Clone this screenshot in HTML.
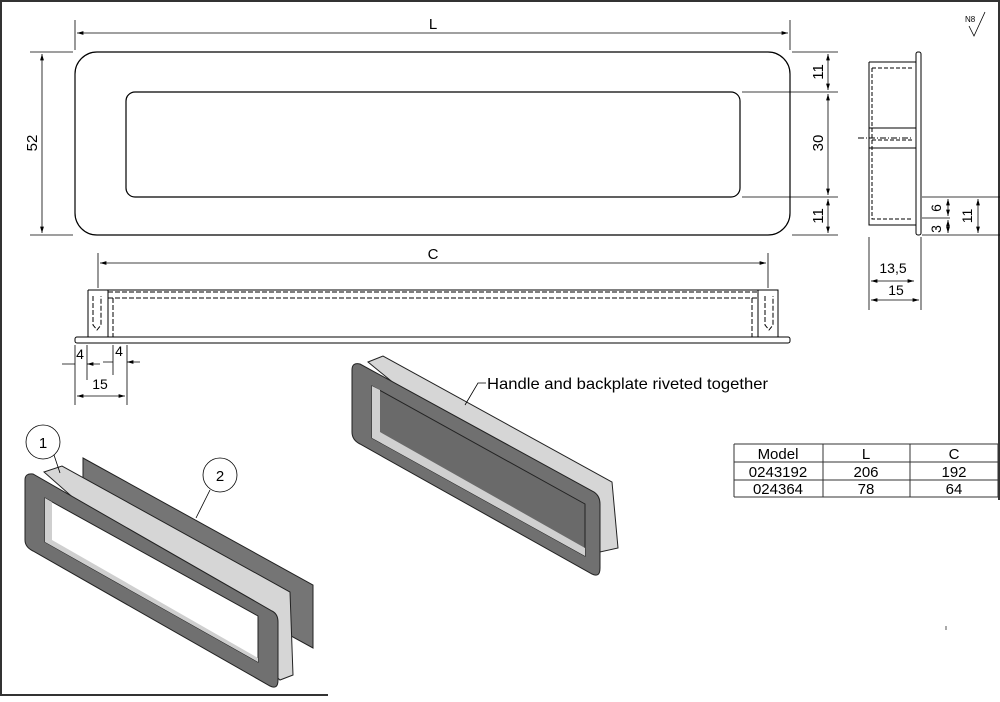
<!DOCTYPE html>
<html><head><style>
body{margin:0;background:#fff;}
svg{display:block;font-family:"Liberation Sans",sans-serif;}
</style></head><body>
<svg width="1000" height="702" viewBox="0 0 1000 702" xmlns="http://www.w3.org/2000/svg">
<defs>
<marker id="a" viewBox="0 0 10 6" refX="10" refY="3" markerWidth="8" markerHeight="5" orient="auto-start-reverse"><path d="M0,0L10,3L0,6z" fill="#000"/></marker>
</defs>
<rect width="1000" height="702" fill="#fff"/>
<g stroke="#333" stroke-width="2" fill="none">
<path d="M1,0V695H328"/>
<path d="M0,1H999V500"/>
</g>
<g fill="none" stroke="#000" stroke-width="1.2">
<rect x="75" y="52" width="715" height="183" rx="22"/>
<rect x="126" y="92" width="614" height="105" rx="9"/>
</g>
<g stroke="#000" stroke-width="0.8" fill="none">
<path d="M75,20V50M790,20V50M30,52H73M30,235H73M792,52H838M742,92H838M742,197H838M792,235H838"/>
<path d="M77,33H788" marker-start="url(#a)" marker-end="url(#a)"/>
<path d="M42,54V233" marker-start="url(#a)" marker-end="url(#a)"/>
<path d="M828,54V90" marker-start="url(#a)" marker-end="url(#a)"/>
<path d="M828,94V195" marker-start="url(#a)" marker-end="url(#a)"/>
<path d="M828,199V233" marker-start="url(#a)" marker-end="url(#a)"/>
</g>
<g font-size="15" fill="#000" text-anchor="middle">
<text x="433" y="29">L</text>
<text transform="translate(37,143) rotate(-90)">52</text>
<text transform="translate(823,72) rotate(-90)">11</text>
<text transform="translate(823,143) rotate(-90)">30</text>
<text transform="translate(823,216) rotate(-90)">11</text>
</g>
<g stroke="#000" stroke-width="1" fill="none">
<rect x="916" y="52" width="5" height="183" rx="2"/>
<path d="M869,62H916M869,62V225H916M869,128H916M869,148H916"/>
<path d="M872,68H912M872,68V219H912M872,140H912" stroke-dasharray="4,2"/>
<path d="M858,138H912" stroke-dasharray="6,2,1,2"/>
</g>
<g stroke="#000" stroke-width="0.8" fill="none">
<path d="M922,197H1000M922,235H1000M922,218H950M869,237V310M921,237V310"/>
<path d="M948,199V216" marker-start="url(#a)" marker-end="url(#a)"/>
<path d="M948,220V233" marker-start="url(#a)" marker-end="url(#a)"/>
<path d="M978,199V233" marker-start="url(#a)" marker-end="url(#a)"/>
<path d="M871,281H914" marker-start="url(#a)" marker-end="url(#a)"/>
<path d="M871,300H919" marker-start="url(#a)" marker-end="url(#a)"/>
</g>
<g font-size="14" fill="#000" text-anchor="middle">
<text transform="translate(941,208) rotate(-90)">6</text>
<text transform="translate(941,229) rotate(-90)">3</text>
<text transform="translate(972,216) rotate(-90)">11</text>
<text x="893" y="273">13,5</text>
<text x="896" y="295">15</text>
</g>
<text x="965" y="22" font-size="8">N8</text>
<path d="M969,26L974,36L985,12" stroke="#000" fill="none" stroke-width="0.8"/>
<g stroke="#000" stroke-width="1" fill="none">
<path d="M88,290H778V337M88,290V337M108,290V337M758,290V337"/>
<rect x="75" y="337" width="715" height="6" rx="2"/>
<path d="M108,292H758M108,298H758M93,296V325l4,5l4,-5V296M765,296V325l4,5l4,-5V296M113,298V337M752,298V337" stroke-dasharray="5,2"/>
</g>
<g stroke="#000" stroke-width="0.8" fill="none">
<path d="M98,253V288M768,253V288"/>
<path d="M100,263H766" marker-start="url(#a)" marker-end="url(#a)"/>
<path d="M75,345V405M127,345V405M87,345V380M113,345V375"/>
<path d="M62,364H75M100,364H87" marker-end="url(#a)"/>
<path d="M103,362H113M140,362H127" marker-end="url(#a)"/>
<path d="M77,396H125" marker-start="url(#a)" marker-end="url(#a)"/>
</g>
<g font-size="15" fill="#000" text-anchor="middle">
<text x="433" y="259">C</text>
<text x="80" y="359" font-size="14">4</text>
<text x="119" y="356" font-size="14">4</text>
<text x="100" y="389" font-size="14">15</text>
</g>
<g stroke="#222" stroke-width="1">
<path d="M83,458L313,585V648L83,522Z" fill="#757575"/>
<path d="M44,472L62,466L290,592L293,675L280,680Z" fill="#d6d6d6"/>
<path d="M25,480Q25,473 33,474L272,611Q278,614 278,622V680Q278,690 270,686L33,551Q25,547 25,540Z" fill="#707070"/>
<path d="M45,498L258,616V662L45,542Z" fill="#fff"/>
<path d="M45,498L52,502V540L258,658V662L45,542Z" fill="#cfcfcf" stroke="none"/>
</g>
<g stroke="#000" stroke-width="0.8" fill="none">
<circle cx="43" cy="442" r="17"/>
<circle cx="220" cy="475" r="17"/>
<path d="M54,455L60,473M210,490L196,518"/>
</g>
<text x="43" y="448" font-size="15" text-anchor="middle">1</text>
<text x="220" y="481" font-size="15" text-anchor="middle">2</text>
<g stroke="#222" stroke-width="1">
<path d="M368,362L383,356L612,482L618,548L600,552Z" fill="#d6d6d6"/>
<path d="M352,370Q352,362 360,364L594,492Q600,496 600,504V568Q600,578 592,574L360,444Q352,440 352,432Z" fill="#707070"/>
<path d="M372,386L585,504V556L372,438Z" fill="#6a6a6a"/>
<path d="M372,386L380,390V432L585,548V556L372,438Z" fill="#d0d0d0" stroke="none"/>
</g>
<path d="M465,405L478,383H486" stroke="#000" stroke-width="0.8" fill="none"/>
<text x="487" y="389" font-size="16" textLength="281" lengthAdjust="spacingAndGlyphs">Handle and backplate riveted together</text>
<g stroke="#333" stroke-width="1" fill="none">
<path d="M734,444H998M734,462H998M734,480H998M734,497H998M734,444V497M823,444V497M910,444V497M998,444V497"/>
</g>
<g font-size="15" text-anchor="middle">
<text x="778" y="459">Model</text><text x="866" y="459">L</text><text x="954" y="459">C</text>
<text x="778" y="477">0243192</text><text x="866" y="477">206</text><text x="954" y="477">192</text>
<text x="778" y="494">024364</text><text x="866" y="494">78</text><text x="954" y="494">64</text>
</g>
<path d="M946,626V630" stroke="#555"/>
</svg>
</body></html>
